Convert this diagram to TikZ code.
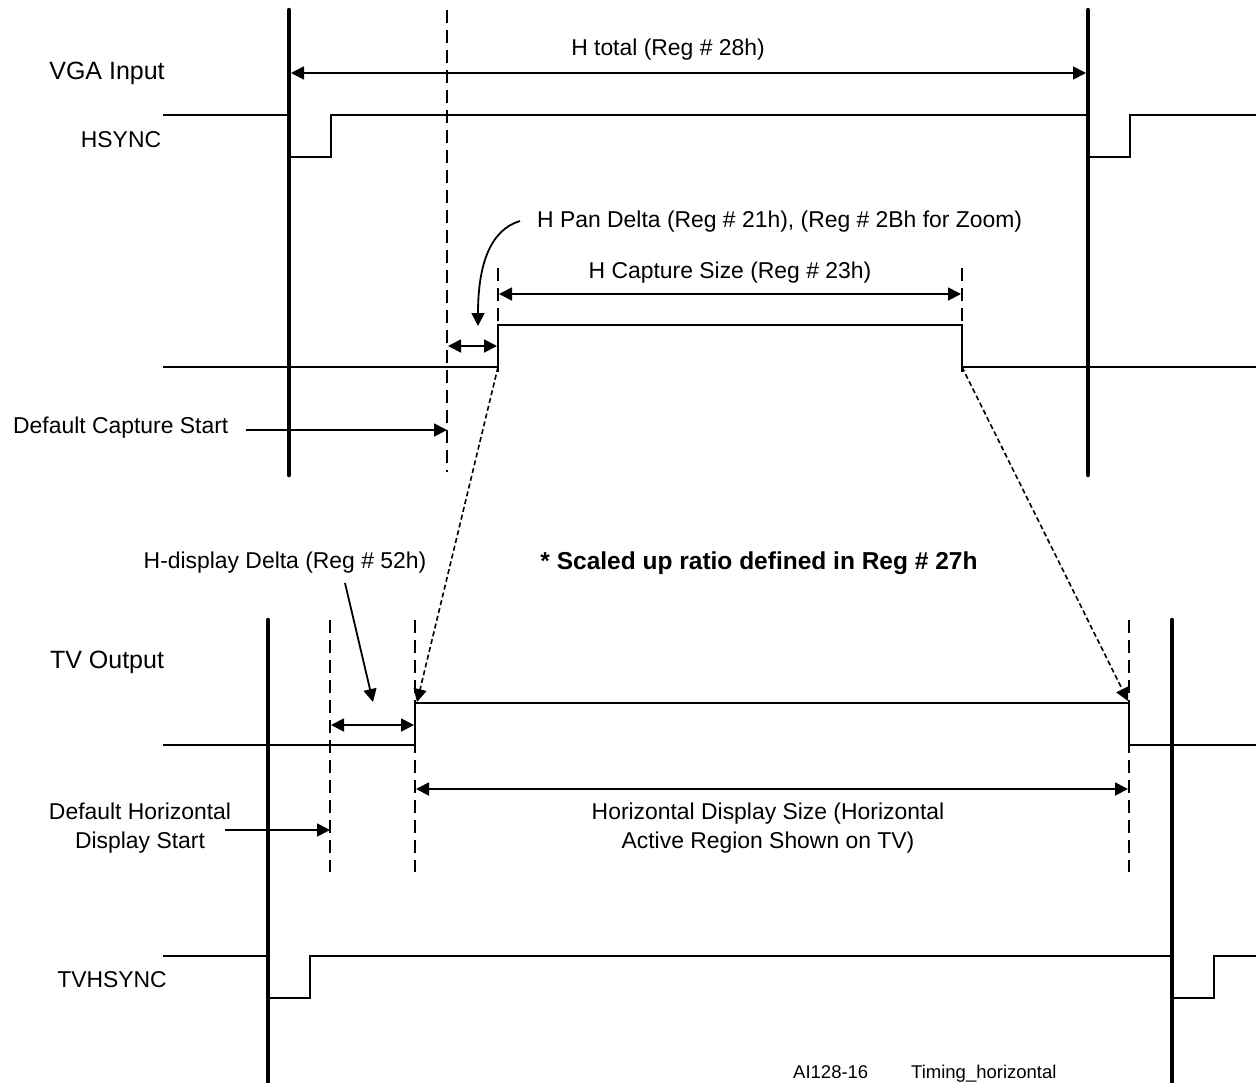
\documentclass[tikz,border=0pt]{standalone}
\usepackage{fontspec}
\setmainfont{Liberation Sans}
\usetikzlibrary{arrows.meta}
\begin{document}
\begin{tikzpicture}[x=1pt,y=-1pt,
  lbl/.style={font=\fontsize{22.9}{29}\selectfont, inner sep=0pt, align=center},
  biglbl/.style={font=\fontsize{25}{30}\selectfont, inner sep=0pt},
  sig/.style={line width=1.8pt},
  bar/.style={line width=4.5pt, line cap=round},
  dashline/.style={line width=1.7pt, dash pattern=on 13pt off 7pt},
  dotline/.style={line width=1.6pt, dash pattern=on 5pt off 3pt},
  tip/.tip={Triangle[length=13pt,width=13pt]},
  arr/.style={line width=1.8pt, -tip},
  darr/.style={line width=1.8pt, tip-tip},
]
\useasboundingbox (0,0) rectangle (1256,1082);

% ---------- VGA input section ----------
\draw[bar] (289,10) -- (289,475);
\draw[bar] (1088,10) -- (1088,475);
\draw[dashline] (447,10) -- (447,472);

\node[biglbl] (vga) at (107,73) {VGA Input};
\node[lbl] (hsync) at (121,140) {HSYNC};
\node[lbl] (htot) at (668,50) {H total (Reg \# 28h)};
\coordinate (htA) at (291,73);
\coordinate (htB) at (1086,73);
\draw[darr] (htA) -- (htB);

% HSYNC waveform
\draw[sig] (163,115) -- (289,115) (289,157) -- (331,157) -- (331,115) -- (1088,115)
  (1088,157) -- (1130,157) -- (1130,115) -- (1256,115);

% capture waveform
\coordinate (capS) at (498,367);
\coordinate (capE) at (962,367);
\draw[sig] (163,367) -- (capS) -- (498,325) -- (962,325) -- (capE) -- (1256,367);
\draw[dashline] (498,268) -- (498,372);
\draw[dashline] (962,268) -- (962,372);

\node[lbl] (hcap) at (730,273) {H Capture Size (Reg \# 23h)};
\coordinate (hcA) at (499,294);
\coordinate (hcB) at (961,294);
\draw[darr] (hcA) -- (hcB);

\coordinate (hpA) at (448,346);
\coordinate (hpB) at (497,346);
\draw[darr] (hpA) -- (hpB);

\node[lbl, anchor=west] (hpan) at (537,222) {H Pan Delta (Reg \# 21h), (Reg \# 2Bh for Zoom)};
\coordinate (panS) at (520,221);
\coordinate (panE) at (478,326);
\draw[arr] (panS) .. controls (490,230) and (478,265) .. (panE);

\node[lbl, anchor=west] (dcs) at (13,428) {Default Capture Start};
\coordinate (dcsS) at (246,430);
\coordinate (dcsE) at (447,430);
\draw[arr] (dcsS) -- (dcsE);

% ---------- scaling ----------
\node[lbl, font=\fontsize{24.5}{29}\selectfont\bfseries] (scale) at (759,563) {* Scaled up ratio defined in Reg \# 27h};

% ---------- TV output section ----------
\draw[bar] (268,620) -- (268,1090);
\draw[bar] (1172,620) -- (1172,1090);
\draw[dashline] (330,620) -- (330,872);
\draw[dashline] (415,620) -- (415,872);
\draw[dashline] (1129,620) -- (1129,872);

\node[biglbl] (tvo) at (107,662) {TV Output};

\coordinate (tvS) at (415,703);
\coordinate (tvE) at (1129,703);
\draw[sig] (163,745) -- (415,745) -- (tvS) -- (tvE) -- (1129,745) -- (1256,745);

\draw[dotline, -tip] (capS) -- (417,702);
\draw[dotline, -tip] (capE) -- (1128,701);

\node[lbl] (hdd) at (285,563) {H-display Delta (Reg \# 52h)};
\coordinate (hddS) at (345,583);
\coordinate (hddE) at (373,702);
\draw[arr] (hddS) -- (hddE);

\coordinate (hdA) at (331,725);
\coordinate (hdB) at (414,725);
\draw[darr] (hdA) -- (hdB);

\coordinate (hsA) at (416,789);
\coordinate (hsB) at (1128,789);
\draw[darr] (hsA) -- (hsB);
\node[lbl] (hds) at (768,828) {Horizontal Display Size (Horizontal\\Active Region Shown on TV)};

\node[lbl] (dhs) at (140,828) {Default Horizontal\\Display Start};
\coordinate (dhsS) at (225,830);
\coordinate (dhsE) at (330,830);
\draw[arr] (dhsS) -- (dhsE);

% TVHSYNC
\node[lbl] (tvh) at (112,980) {TVHSYNC};
\draw[sig] (163,956) -- (268,956) (268,998) -- (310,998) -- (310,956) -- (1172,956)
  (1172,998) -- (1214,998) -- (1214,956) -- (1256,956);

% footer
\node[lbl, font=\fontsize{18.5}{22}\selectfont, anchor=base west] (ai) at (793,1078) {AI128-16};
\node[lbl, font=\fontsize{18.5}{22}\selectfont, anchor=base west] (tim) at (911,1078) {Timing\_horizontal};
\end{tikzpicture}
\end{document}
